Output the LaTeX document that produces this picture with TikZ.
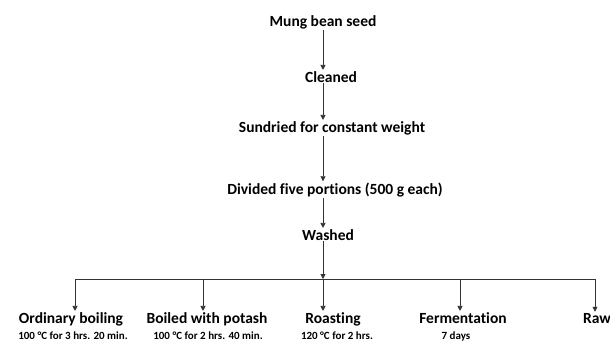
\documentclass[tikz,border=0pt]{standalone}
\usepackage{fontspec}
\setmainfont{Carlito}[Ligatures=NoCommon]
\usetikzlibrary{arrows.meta}

\begin{document}
\begin{tikzpicture}[x=1pt,y=-1pt]
          \tikzstyle{every node}=[font=\bfseries\fontsize{15.5}{18}\selectfont, inner sep=1pt, anchor=base]
          \tikzstyle{cond}=[font=\bfseries\fontsize{11}{13}\selectfont]
          \tikzstyle{flow}=[draw=black!80, line width=0.8pt, -{Triangle[length=5pt,width=5pt]}]
      \useasboundingbox (0,0) rectangle (610,343);

      \coordinate (spine) at (323,0);

      \node (mung) at (323,26) {Mung bean seed};
      \node (cleaned) at (331,82) {Cleaned};
      \node (sundried) at (332,132) {Sundried for constant weight};
      \node (divided) at (335,194) {Divided five portions (500 g each)};
      \node (washed) at (328,240) {Washed};

      \node (ordinary) at (71,323) {Ordinary boiling};
      \node (potash) at (207,323) {Boiled with potash};
      \node (roasting) at (333,323) {Roasting};
      \node (ferment) at (463,323) {Fermentation};
      \node (raw) at (597,323) {Raw};

      \node[cond] (ordinaryc) at (73,339) {100 °C for 3 hrs. 20 min.};
      \node[cond] (potashc) at (208,339) {100 °C for 2 hrs. 40 min.};
      \node[cond] (roastingc) at (337,339) {120 °C for 2 hrs.};
      \node[cond] (fermentc) at (456,339) {7 days};

      \coordinate (b1) at (75,279);
      \coordinate (b2) at (203,279);
      \coordinate (b3) at (323,279);
      \coordinate (b4) at (460,279);
      \coordinate (b5) at (595,279);

      \draw[flow] (mung.south -| spine) -- (cleaned.north -| spine);
      \draw[flow] (cleaned.south -| spine) -- (sundried.north -| spine);
      \draw[flow] (sundried.south -| spine) -- (divided.north -| spine);
      \draw[flow] (divided.south -| spine) -- (washed.north -| spine);
      \draw[flow] (washed.south -| spine) -- (b3);

      \draw[draw=black!80, line width=0.8pt] (b1) -- (b5);
      \draw[flow] (b1) -- (b1 |- ordinary.north);
      \draw[flow] (b2) -- (b2 |- potash.north);
      \draw[flow] (b3) -- (b3 |- roasting.north);
      \draw[flow] (b4) -- (b4 |- ferment.north);
      \draw[flow] (b5) -- (b5 |- raw.north);

\end{tikzpicture}
\end{document}
